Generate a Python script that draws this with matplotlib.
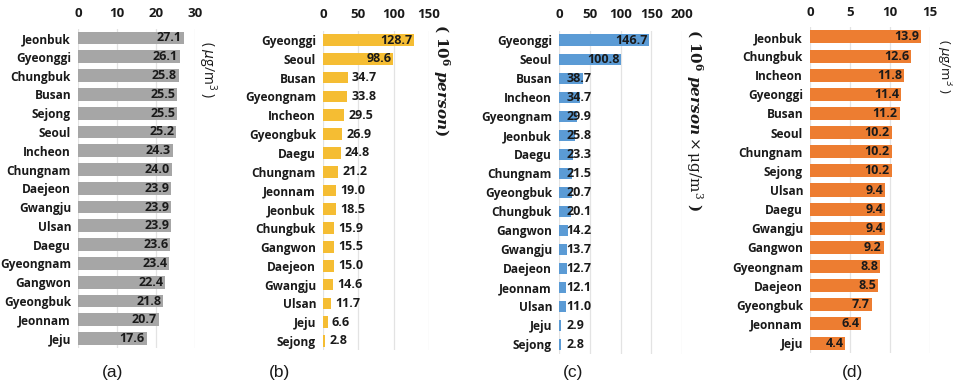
import matplotlib
matplotlib.use("Agg")
import matplotlib.pyplot as plt

plt.rcParams['font.family'] = ['Open Sans', 'DejaVu Sans']

cats_a = ["Jeonbuk","Gyeonggi","Chungbuk","Busan","Sejong","Seoul","Incheon","Chungnam","Daejeon",
          "Gwangju","Ulsan","Daegu","Gyeongnam","Gangwon","Gyeongbuk","Jeonnam","Jeju"]
vals_a = [27.1,26.1,25.8,25.5,25.5,25.2,24.3,24.0,23.9,23.9,23.9,23.6,23.4,22.4,21.8,20.7,17.6]

cats_b = ["Gyeonggi","Seoul","Busan","Gyeongnam","Incheon","Gyeongbuk","Daegu","Chungnam","Jeonnam",
          "Jeonbuk","Chungbuk","Gangwon","Daejeon","Gwangju","Ulsan","Jeju","Sejong"]
vals_b = [128.7,98.6,34.7,33.8,29.5,26.9,24.8,21.2,19.0,18.5,15.9,15.5,15.0,14.6,11.7,6.6,2.8]

cats_c = ["Gyeonggi","Seoul","Busan","Incheon","Gyeongnam","Jeonbuk","Daegu","Chungnam","Gyeongbuk",
          "Chungbuk","Gangwon","Gwangju","Daejeon","Jeonnam","Ulsan","Jeju","Sejong"]
vals_c = [146.7,100.8,38.7,34.7,29.9,25.8,23.3,21.5,20.7,20.1,14.2,13.7,12.7,12.1,11.0,2.9,2.8]

cats_d = ["Jeonbuk","Chungbuk","Incheon","Gyeonggi","Busan","Seoul","Chungnam","Sejong","Ulsan",
          "Daegu","Gwangju","Gangwon","Gyeongnam","Daejeon","Gyeongbuk","Jeonnam","Jeju"]
vals_d = [13.9,12.6,11.8,11.4,11.2,10.2,10.2,10.2,9.4,9.4,9.4,9.2,8.8,8.5,7.7,6.4,4.4]

W, H = 954, 387
fig = plt.figure(figsize=(W/100, H/100), dpi=100)

def px_axes(l, r, t, b):
    return fig.add_axes([l/W, 1-b/H, (r-l)/W, (b-t)/H])

TXT = '#1a1a1a'

def panel(box, cats, vals, xmax, step, color, bh, mode, inside_min=None, left_x=None, pad=7):
    ax = px_axes(*box)
    y = list(range(len(cats)))
    ax.barh(y, vals, height=bh, color=color, zorder=2)
    ax.set_ylim(len(cats)-0.5, -0.5)
    ax.set_xlim(0, xmax)
    ax.set_xticks(list(range(0, xmax+1, step)))
    ax.xaxis.tick_top()
    ax.tick_params(axis='x', length=0, pad=pad, labelsize=9.5)
    ax.tick_params(axis='y', length=0, pad=5, labelsize=8.6)
    ax.set_yticks(y)
    ax.set_yticklabels(cats)
    for lab in ax.get_xticklabels() + ax.get_yticklabels():
        lab.set_fontweight('bold'); lab.set_color(TXT)
    ax.grid(axis='x', color='#e3e3e3', lw=0.9, zorder=0)
    ax.set_axisbelow(True)
    for s in ax.spines.values():
        s.set_visible(False)
    for yi, v in zip(y, vals):
        s = f"{v:.1f}"
        kw = dict(va='center', fontsize=9, fontweight='bold', color=TXT, zorder=3)
        if mode == 'inside':
            ax.text(v - xmax*0.015, yi, s, ha='right', **kw)
        elif mode == 'b':
            if v >= inside_min:
                ax.text(v - xmax*0.01, yi, s, ha='right', **kw)
            else:
                ax.text(v + xmax*0.04, yi, s, ha='left', **kw)
        else:
            if v >= inside_min:
                ax.text(v - xmax*0.01, yi, s, ha='right', **kw)
            else:
                ax.text(left_x, yi, s, ha='left', **kw)
    return ax

panel((78, 195, 28.6, 348), cats_a, vals_a, 30, 10, '#a6a6a6', 0.68, 'inside', pad=6)
panel((323, 429, 30.6, 350.4), cats_b, vals_b, 150, 50, '#f5bd33', 0.62, 'b', inside_min=90, pad=7)
panel((559, 682, 30.5, 354), cats_c, vals_c, 200, 50, '#5b9bd5', 0.58, 'c', inside_min=90, left_x=12, pad=7)
panel((810, 930, 27.4, 352.6), cats_d, vals_d, 15, 5, '#ed7d31', 0.68, 'inside', pad=6)

def ftext(x, y, s, **kw):
    fig.text(x/W, 1-y/H, s, **kw)

ftext(207, 70, r"( $\mu$g/m$^{\mathregular{3}}$ )", rotation=-90, ha='center', va='center',
      fontsize=10, color=TXT)
ftext(944, 66, r"( $\mu$g/m$^{\mathregular{3}}$ )", rotation=-90, ha='center', va='center',
      fontsize=9.5, color=TXT)
plt.rcParams['mathtext.fontset'] = 'dejavuserif'
ftext(441, 80, r"$\mathbf{(\ 10^6}\ \mathbfit{person}\mathbf{)}$", rotation=-90, ha='center', va='center',
      fontsize=11, color=TXT)
ftext(694, 120, r"$\mathbf{(\ 10^6}\ \mathbfit{person}\times\mathrm{\mu g/m^3}\mathbf{\ )}$", rotation=-90,
      ha='center', va='center', fontsize=11, color=TXT)

for x, s in [(113, '(a)'), (280, '(b)'), (573, '(c)'), (853, '(d)')]:
    ftext(x, 372, s, ha='center', va='center', fontsize=12.5, color=TXT, family=['Liberation Sans', 'DejaVu Sans'])

fig.savefig('out.png', dpi=100)
